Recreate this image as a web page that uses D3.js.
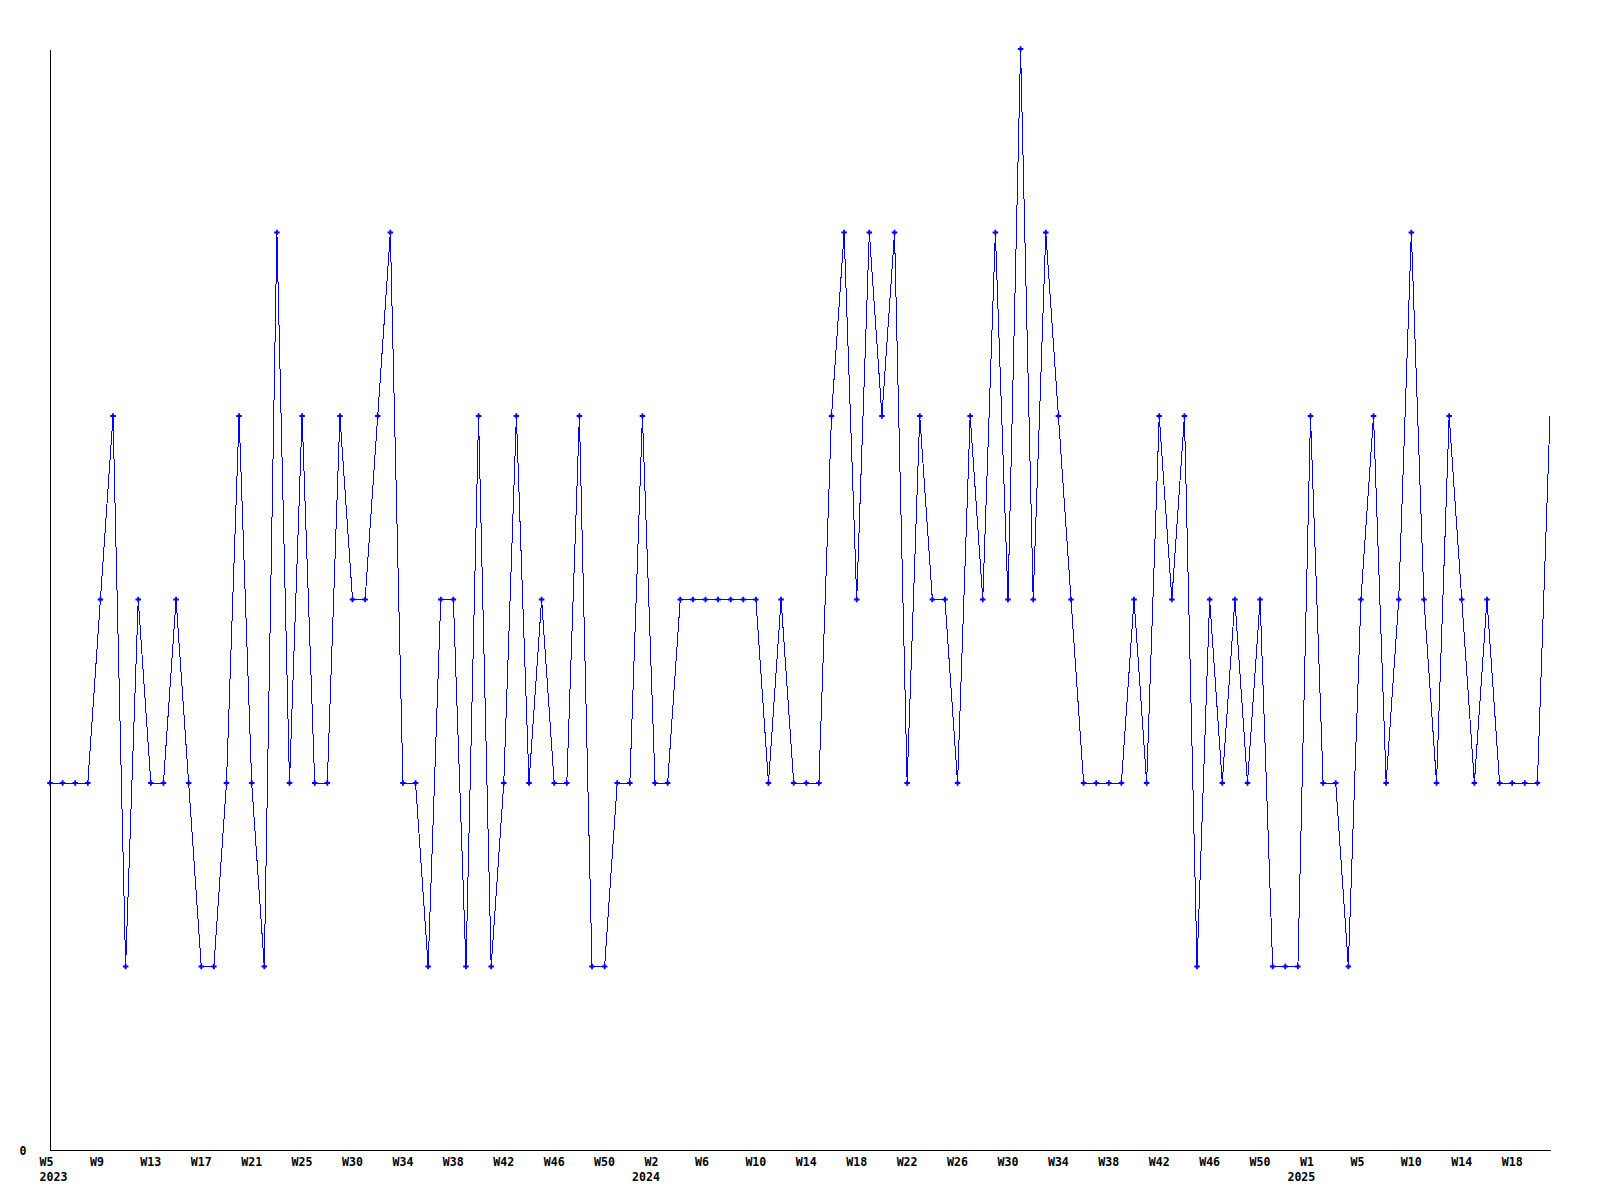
<!DOCTYPE html>
<html>
<head>
<meta charset="utf-8">
<script src="https://cdn.jsdelivr.net/npm/d3@7"></script>
<style>
  html, body { margin: 0; padding: 0; background: #ffffff; }
  svg { display: block; }
  text { font-family: "DejaVu Sans Mono", "Liberation Mono", monospace; font-weight: bold; font-size: 11.6px; fill: #000; }
</style>
</head>
<body>
<script>
// Weekly values, 2023 W5 .. 2025 (120 points)
const values = [
  2,2,2,2,3,4,1,3,2,2,
  3,2,1,1,2,4,2,1,5,2,
  4,2,2,4,3,3,4,5,2,2,
  1,3,3,1,4,1,2,4,2,3,
  2,2,4,1,1,2,2,4,2,2,
  3,3,3,3,3,3,3,2,3,2,
  2,2,4,5,3,5,4,5,2,4,
  3,3,2,4,3,5,3,6,3,5,
  4,3,2,2,2,2,3,2,4,3,
  4,1,3,2,3,2,3,1,1,1,
  4,2,2,1,3,4,2,3,5,3,
  2,4,3,2,3,2,2,2,2,4
];
// x-axis week ticks (position = point index)
const weekTickIndex = [0,4,8,12,16,20,24,28,32,36,40,44,48,52,56,60,64,68,72,76,80,84,88,92,96,100,104,108,112,116];
const weekTickLabels = ["W5","W9","W13","W17","W21","W25","W30","W34","W38","W42","W46","W50",
                        "W2","W6","W10","W14","W18","W22","W26","W30","W34","W38","W42","W46","W50",
                        "W1","W5","W10","W14","W18"];
const yearTickIndex = [0,47,99];
const yearTickLabels = ["2023","2024","2025"];
const yTickValues = [0];
const yTickLabels = ["0"];

const W = 1600, H = 1200;
const svg = d3.select("body").append("svg").attr("width", W).attr("height", H);

const x = d3.scaleLinear().domain([0, values.length - 1]).range([50, 1550]);
const y = d3.scaleLinear().domain([0, 6]).range([1150, 49]);

// X axis (weeks)
const xAxis = svg.append("g").attr("transform", `translate(0,${y(0)})`)
  .call(d3.axisBottom(x).tickValues(weekTickIndex).tickSize(0).tickSizeOuter(0)
        .tickFormat((d, i) => weekTickLabels[i]));
xAxis.select(".domain").attr("stroke", "#000").attr("stroke-width", 1).attr("shape-rendering", "crispEdges");
xAxis.selectAll("text").attr("text-anchor", "start").attr("x", -11).attr("y", 12)
  .attr("dy", "0").attr("dominant-baseline", "central")
  .style("font-family", "DejaVu Sans Mono, monospace").style("font-size", "11.6px").style("font-weight", "bold");

// Year row
const yearAxis = svg.append("g").attr("transform", `translate(0,${y(0)})`)
  .call(d3.axisBottom(x).tickValues(yearTickIndex).tickSize(0).tickSizeOuter(0)
        .tickFormat((d, i) => yearTickLabels[i]));
yearAxis.select(".domain").remove();
yearAxis.selectAll("text").attr("text-anchor", "start").attr("x", -11).attr("y", 27)
  .attr("dy", "0").attr("dominant-baseline", "central")
  .style("font-family", "DejaVu Sans Mono, monospace").style("font-size", "11.6px").style("font-weight", "bold");

// Y axis
const yAxis = svg.append("g").attr("transform", `translate(${x(0)},0)`)
  .call(d3.axisLeft(y).tickValues(yTickValues).tickSize(0).tickSizeOuter(0)
        .tickFormat((d, i) => yTickLabels[i]));
yAxis.select(".domain").attr("stroke", "#000").attr("stroke-width", 1).attr("shape-rendering", "crispEdges");
yAxis.selectAll("text").attr("text-anchor", "middle").attr("x", -27).attr("dy", "0")
  .attr("dominant-baseline", "central")
  .style("font-family", "DejaVu Sans Mono, monospace").style("font-size", "11.6px").style("font-weight", "bold");

// Line
const line = d3.line().x((d, i) => x(i)).y(d => y(d));
svg.append("path").datum(values)
  .attr("d", line)
  .attr("fill", "none")
  .attr("stroke", "#0000ff")
  .attr("stroke-width", 1)
  .attr("shape-rendering", "crispEdges");

// Markers (last point has none)
const sym = d3.symbol().type(d3.symbolCross).size(17);
svg.append("g").selectAll("path")
  .data(values.slice(0, values.length - 1))
  .join("path")
  .attr("d", sym)
  .attr("transform", (d, i) => `translate(${x(i)},${y(d)})`)
  .attr("fill", "#0000ff");
</script>
</body>
</html>
